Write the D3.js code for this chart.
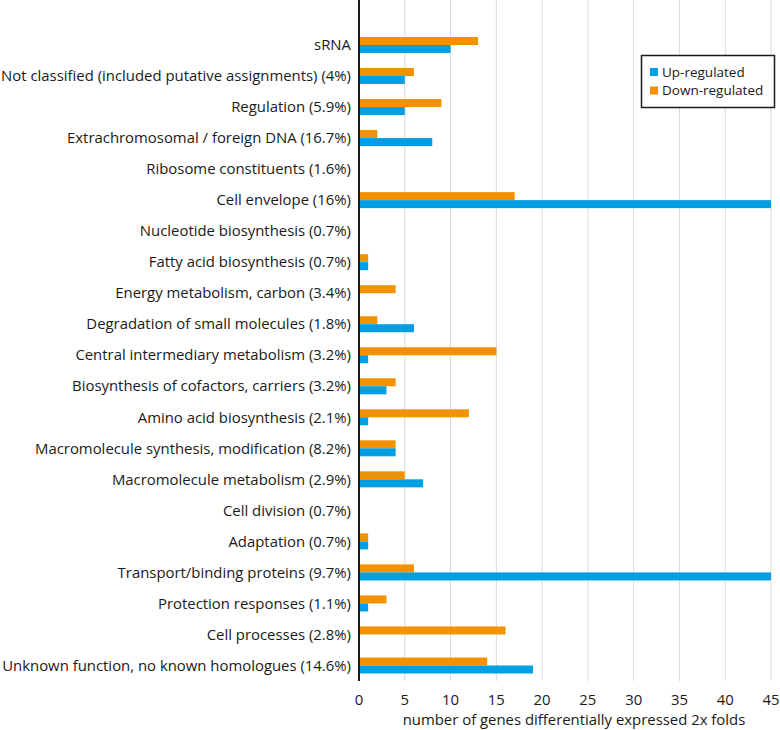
<!DOCTYPE html>
<html>
<head>
<meta charset="utf-8">
<script src="https://cdn.jsdelivr.net/npm/d3@7"></script>
<style>
  body { margin: 0; background: #fff; }
  text { font-family: "Open Sans", sans-serif; fill: #1a1a1a; }
</style>
</head>
<body>
<script>
// categories top to bottom
var categories = [
  "sRNA",
  "Not classified (included putative assignments) (4%)",
  "Regulation (5.9%)",
  "Extrachromosomal / foreign DNA (16.7%)",
  "Ribosome constituents (1.6%)",
  "Cell envelope (16%)",
  "Nucleotide biosynthesis (0.7%)",
  "Fatty acid biosynthesis (0.7%)",
  "Energy metabolism, carbon (3.4%)",
  "Degradation of small molecules (1.8%)",
  "Central intermediary metabolism (3.2%)",
  "Biosynthesis of cofactors, carriers (3.2%)",
  "Amino acid biosynthesis (2.1%)",
  "Macromolecule synthesis, modification (8.2%)",
  "Macromolecule metabolism (2.9%)",
  "Cell division (0.7%)",
  "Adaptation (0.7%)",
  "Transport/binding proteins (9.7%)",
  "Protection responses (1.1%)",
  "Cell processes (2.8%)",
  "Unknown function, no known homologues (14.6%)"
];
var upValues   = [10, 5, 5, 8, 0, 45, 0, 1, 0, 6, 1, 3, 1, 4, 7, 0, 1, 45, 1, 0, 19];
var downValues = [13, 6, 9, 2, 0, 17, 0, 1, 4, 2, 15, 4, 12, 4, 5, 0, 1, 6, 3, 16, 14];
var xTicks = [0, 5, 10, 15, 20, 25, 30, 35, 40, 45];
var seriesNames = ["Up-regulated", "Down-regulated"];

var upColor = "#009fe3", downColor = "#f39200";

var W = 780, H = 730;
var x0 = 359, x1 = 771, yTop = 29.5, yBottom = 681;
var fs = "14.9px";

var svg = d3.select("body").append("svg")
    .attr("width", W)
    .attr("height", H);

var x = d3.scaleLinear().domain([0, 45]).range([x0, x1]);
var y = d3.scaleBand().domain(categories).range([yTop, yBottom]);
var barH = 8;

// gridlines
svg.append("g")
  .selectAll("line")
  .data(xTicks.slice(1))
  .enter().append("line")
    .attr("x1", function(d) { return x(d); })
    .attr("x2", function(d) { return x(d); })
    .attr("y1", 0)
    .attr("y2", yBottom)
    .attr("stroke", "#d9d9d9")
    .attr("stroke-width", 1);

// bars
var rows = categories.map(function(c, i) {
  return {cat: c, up: upValues[i], down: downValues[i]};
});

svg.append("g").selectAll("rect.down")
  .data(rows)
  .enter().append("rect")
    .attr("x", x(0))
    .attr("y", function(d) { return y(d.cat) + y.bandwidth() / 2 - barH; })
    .attr("width", function(d) { return x(d.down) - x(0); })
    .attr("height", barH)
    .attr("fill", downColor);

svg.append("g").selectAll("rect.up")
  .data(rows)
  .enter().append("rect")
    .attr("x", x(0))
    .attr("y", function(d) { return y(d.cat) + y.bandwidth() / 2; })
    .attr("width", function(d) { return x(d.up) - x(0); })
    .attr("height", barH)
    .attr("fill", upColor);

// y axis line
svg.append("line")
    .attr("x1", x0).attr("x2", x0)
    .attr("y1", 0).attr("y2", yBottom)
    .attr("stroke", "#1a1a1a")
    .attr("stroke-width", 2);

// category labels
svg.append("g").selectAll("text")
  .data(categories)
  .enter().append("text")
    .attr("x", 351)
    .attr("y", function(d) { return y(d) + y.bandwidth() / 2; })
    .attr("dy", "0.35em")
    .attr("text-anchor", "end")
    .style("font-size", fs)
    .text(function(d) { return d; });

// x tick labels
svg.append("g").selectAll("text")
  .data(xTicks)
  .enter().append("text")
    .attr("x", function(d) { return x(d); })
    .attr("y", 700)
    .attr("dy", "0.35em")
    .attr("text-anchor", "middle")
    .style("font-size", fs)
    .text(function(d) { return d; });

svg.append("text")
    .attr("x", 574)
    .attr("y", 720)
    .attr("dy", "0.35em")
    .attr("text-anchor", "middle")
    .style("font-size", fs)
    .text("number of genes differentially expressed 2x folds");

// legend
var legend = svg.append("g");
legend.append("rect")
    .attr("x", 641.5).attr("y", 55.5)
    .attr("width", 133).attr("height", 52)
    .attr("fill", "#fff")
    .attr("stroke", "#1a1a1a")
    .attr("stroke-width", 1.5);

legend.selectAll("rect.key")
  .data(seriesNames)
  .enter().append("rect")
    .attr("x", 650)
    .attr("y", function(d, i) { return 68 + i * 18.5; })
    .attr("width", 8).attr("height", 8)
    .attr("fill", function(d, i) { return i === 0 ? upColor : downColor; });

legend.selectAll("text.key")
  .data(seriesNames)
  .enter().append("text")
    .attr("x", 662)
    .attr("y", function(d, i) { return 72 + i * 18.5; })
    .attr("dy", "0.35em")
    .style("font-size", "13.5px")
    .text(function(d) { return d; });
</script>
</body>
</html>
